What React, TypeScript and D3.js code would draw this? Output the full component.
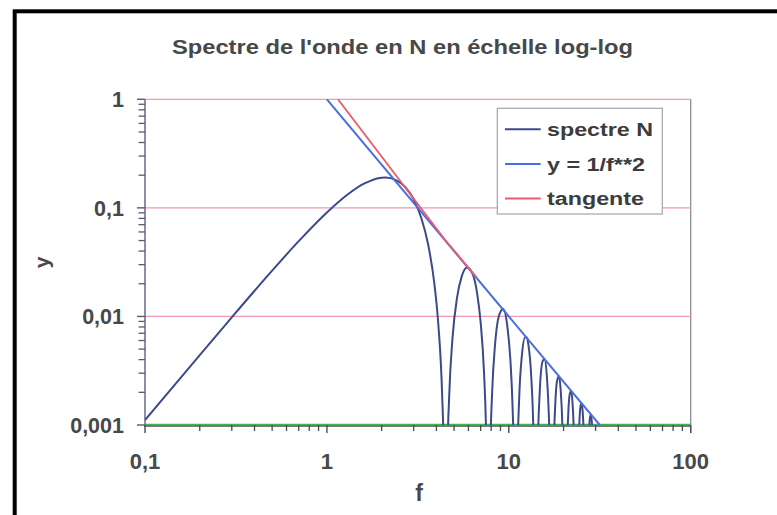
import React from 'react';
import * as d3 from 'd3';

// Spectrum of the N-wave (1e-6 = zero of the spectrum, off-axis)
const specF = [0.1, 0.2, 0.3, 0.5, 0.7, 1, 1.3, 1.6, 2, 2.1, 2.4, 2.7, 3, 3.3, 3.6, 3.9, 4.1, 4.3, 4.4, 4.493,
  4.6, 4.7, 4.9, 5.2, 5.5, 5.9, 6.3, 6.7, 7, 7.3, 7.5, 7.6, 7.725,
  7.9, 8.1, 8.4, 8.8, 9.3, 9.8, 10.2, 10.5, 10.7, 10.904,
  11.1, 11.4, 11.8, 12.3, 12.55, 12.8, 13.3, 13.7, 13.9, 14.066,
  14.4, 14.8, 15.3, 15.7, 16.2, 16.6, 16.9, 17.221,
  17.6, 18, 18.4, 18.85, 19.3, 19.7, 20, 20.371,
  20.8, 21.2, 21.6, 22, 22.4, 22.8, 23.1, 23.519,
  24, 24.4, 24.8, 25.13, 25.5, 25.9, 26.2, 26.666,
  27.1, 27.5, 27.9, 28.27, 28.7, 29.1, 29.812,
  30.5, 31, 31.4, 31.8, 32.3, 32.956];
const specY = [0.001111, 0.004409, 0.00982, 0.02642, 0.04933, 0.0907, 0.1328, 0.167, 0.1896, 0.1902, 0.1802, 0.1548, 0.1195, 0.0811, 0.0462, 0.01986, 0.008376, 0.001906, 0.000428, 1e-6,
  0.00051, 0.001817, 0.006238, 0.01507, 0.02316, 0.0282, 0.02505, 0.01625, 0.00889, 0.00315, 0.000873, 0.000233, 1e-6,
  0.000473, 0.002012, 0.005466, 0.00995, 0.01169, 0.0083, 0.004007, 0.001392, 0.000354, 1e-6,
  0.000306, 0.001729, 0.004363, 0.006429, 0.006365, 0.005562, 0.002708, 0.000677, 0.000141, 1e-6,
  0.000514, 0.00204, 0.003806, 0.004057, 0.002767, 0.001224, 0.000347, 1e-6,
  0.00044, 0.00152, 0.002522, 0.002814, 0.002069, 0.000996, 0.000329, 1e-6,
  0.000399, 0.001207, 0.001903, 0.002066, 0.001613, 0.000834, 0.00031, 1e-6,
  0.00037, 0.000997, 0.001493, 0.001583, 0.0013, 0.000716, 0.000294, 1e-6,
  0.000241, 0.000725, 0.001145, 0.001251, 0.000975, 0.000503, 1e-6,
  0.000433, 0.000896, 0.001014, 0.000829, 0.000357, 1e-6];

const asymF = [1, 31.62];
const asymY = [1, 0.001];
const tanF = [1.15, 4.46, 6.66];
const tanY = [1, 0.0509, 0.0228];
const baseF = [0.1, 100];
const baseY = [0.001, 0.001];

const xTicks = [0.1, 1, 10, 100];
const xTickLabels = ['0,1', '1', '10', '100'];
const yTicks = [0.001, 0.01, 0.1, 1];
const yTickLabels = ['0,001', '0,01', '0,1', '1'];
const legendLabels = ['spectre N', 'y = 1/f**2', 'tangente'];
const legendColors = ['#3c4a8c', '#4a6ee0', '#f05a66'];
const title = "Spectre de l'onde en N en échelle log-log";
const xTitle = 'f';
const yTitle = 'y';

const W = 777, H = 515;
const L = 145, R = 690.7, T = 99.3, B = 425;
const FONT = 'Liberation Sans, Arial, sans-serif';
const TXT = '#484848';

export default function App() {
  const x = d3.scaleLog().domain([0.1, 100]).range([L, R]);
  const y = d3.scaleLog().domain([0.001, 1]).range([B, T]);

  const mk = (fs: number[], ys: number[], curve: any) =>
    d3.line<number>().x((i) => x(fs[i])).y((i) => y(ys[i])).curve(curve)(fs.map((_, i) => i)) || '';

  const minorX: number[] = [];
  [0.1, 1, 10].forEach((d) => { for (let k = 2; k <= 9; k++) minorX.push(d * k); });
  const minorY: number[] = [];
  [0.001, 0.01, 0.1].forEach((d) => { for (let k = 2; k <= 9; k++) minorY.push(d * k); });

  const legendRowY = [129.3, 164, 198.5];
  const legendTextLen = [106, 98, 97];

  return (
    <svg width={W} height={H} style={{ position: 'absolute', left: 0, top: 0 }} fontFamily={FONT}>
      <defs>
        <clipPath id="plotClip">
          <rect x={L} y={T - 1} width={R - L} height={B - T + 1} />
        </clipPath>
      </defs>
      <rect x={0} y={0} width={W} height={H} fill="#ffffff" />
      <rect x={14.7} y={11.3} width={900} height={700} fill="none" stroke="#000" strokeWidth={4} />

      {/* plot border right */}
      <line x1={R} x2={R} y1={T} y2={B + 8} stroke="#8c8c9c" strokeWidth={1.3} />
      {/* gridlines */}
      {yTicks.filter((v) => v > 0.001).map((v) => (
        <line key={'g' + v} x1={L} x2={R} y1={y(v)} y2={y(v)} stroke="#ee9ab4" strokeWidth={1.2} />
      ))}

      {/* axes */}
      <line x1={L} x2={L} y1={T} y2={B} stroke="#6a6a84" strokeWidth={1.5} />
      <line x1={L - 1} x2={R} y1={B + 1} y2={B + 1} stroke="#4a4a50" strokeWidth={1.5} />
      {yTicks.map((v) => (
        <line key={'yt' + v} x1={L - 8} x2={L} y1={y(v)} y2={y(v)} stroke="#5a5a70" strokeWidth={1.4} />
      ))}
      {minorY.map((v) => (
        <line key={'ym' + v} x1={L - 6.5} x2={L} y1={y(v)} y2={y(v)} stroke="#5a5a70" strokeWidth={1.3} />
      ))}
      {xTicks.map((v) => (
        <line key={'xt' + v} x1={x(v)} x2={x(v)} y1={B} y2={B + 8} stroke="#4a4a50" strokeWidth={1.4} />
      ))}
      {minorX.map((v) => (
        <line key={'xm' + v} x1={x(v)} x2={x(v)} y1={B} y2={B + 6} stroke="#4a4a50" strokeWidth={1.3} />
      ))}

      {/* series */}
      <g clipPath="url(#plotClip)">
        <path d={mk(baseF, baseY, d3.curveLinear)} fill="none" stroke="#3fb44a" strokeWidth={1.6} transform="translate(0,-0.5)" />
        <path d={mk(specF, specY, d3.curveMonotoneX)} fill="none" stroke={legendColors[0]} strokeWidth={2} />
        <path d={mk(asymF, asymY, d3.curveLinear)} fill="none" stroke={legendColors[1]} strokeWidth={2} />
        <path d={mk(tanF, tanY, d3.curveLinear)} fill="none" stroke={legendColors[2]} strokeWidth={1.8} />
      </g>

      {/* tick labels */}
      {yTicks.map((v, i) => (
        <text key={'yl' + v} x={124} y={y(v) + 7.8} textAnchor="end" fontSize={21.5} fontWeight="bold" fill={TXT}>
          {yTickLabels[i]}
        </text>
      ))}
      {xTicks.map((v, i) => (
        <text key={'xl' + v} x={x(v)} y={469.3} textAnchor="middle" fontSize={22} fontWeight="bold" fill={TXT}>
          {xTickLabels[i]}
        </text>
      ))}

      {/* titles */}
      <text x={172} y={54.3} fontSize={20} fontWeight="bold" fill={TXT} textLength={461} lengthAdjust="spacingAndGlyphs">
        {title}
      </text>
      <text x={419} y={501} textAnchor="middle" fontSize={23} fontWeight="bold" fill={TXT}>{xTitle}</text>
      <text transform="translate(48.7,262.5) rotate(-90)" textAnchor="middle" fontSize={21} fontWeight="bold" fill={TXT}>{yTitle}</text>

      {/* legend */}
      <rect x={497.3} y={108.3} width={165} height={105.7} fill="#ffffff" stroke="#a4a4b0" strokeWidth={1.2} />
      {legendLabels.map((lab, i) => (
        <g key={lab}>
          <line x1={505} x2={540.7} y1={legendRowY[i]} y2={legendRowY[i]} stroke={legendColors[i]} strokeWidth={2} />
          <text x={547} y={legendRowY[i] + 6.6} fontSize={17.5} fontWeight="bold" fill="#3c3c3c"
            textLength={legendTextLen[i]} lengthAdjust="spacingAndGlyphs">{lab}</text>
        </g>
      ))}
    </svg>
  );
}
